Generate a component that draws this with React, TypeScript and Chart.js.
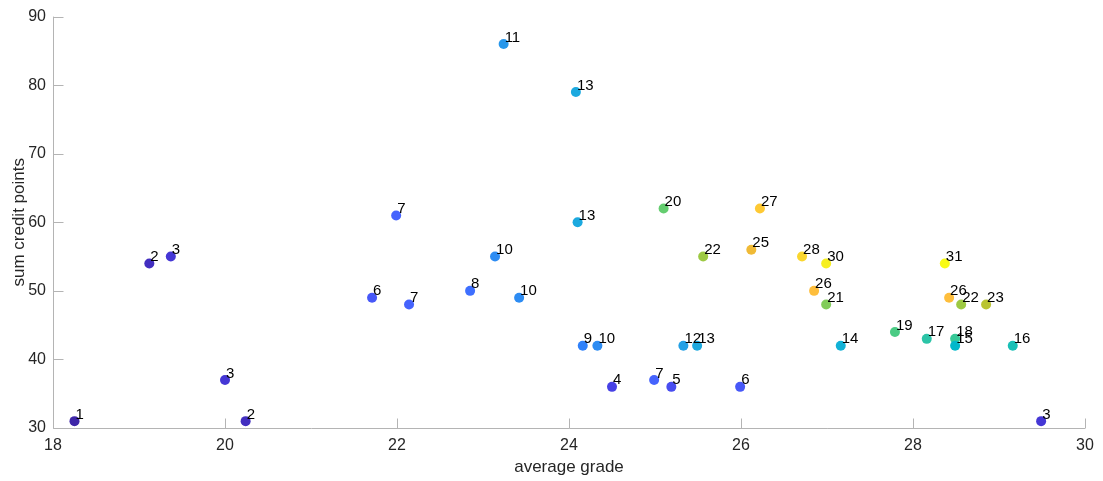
import React, { useEffect, useRef } from "react";
import { Chart, registerables } from "chart.js";

Chart.register(...registerables);

// average grade (x), sum credit points (y), label / colour value
const grades = [
  18.25, 19.12, 19.37, 20.0, 20.24, 21.71, 21.99, 22.14, 22.85, 23.14, 23.42,
  23.24, 24.08, 24.1, 24.16, 24.33, 24.5, 24.99, 25.19, 25.33, 25.49, 25.99,
  25.1, 25.56, 26.22, 26.12, 26.71, 26.99, 26.85, 26.99, 27.16, 27.79, 28.16,
  28.37, 28.42, 28.49, 28.49, 28.56, 28.85, 29.16, 29.49,
];
const credits = [
  31, 54, 55, 37, 31, 49, 61, 48, 50, 55, 49, 86, 79, 60, 42, 42, 36, 37, 36,
  42, 42, 36, 62, 55, 62, 56, 55, 54, 50, 48, 42, 44, 43, 54, 49, 43, 42, 48,
  48, 42, 31,
];
const counts = [
  1, 2, 3, 3, 2, 6, 7, 7, 8, 10, 10, 11, 13, 13, 9, 10, 4, 7, 5, 12, 13, 6, 20,
  22, 27, 25, 28, 30, 26, 21, 14, 19, 17, 31, 26, 18, 15, 22, 23, 16, 3,
];

const xLabel = "average grade";
const yLabel = "sum credit points";

const PARULA: number[][] = [
  [0.2422, 0.1504, 0.6603], [0.2504, 0.165, 0.7076], [0.2578, 0.1818, 0.7511],
  [0.2647, 0.1978, 0.7952], [0.2706, 0.2147, 0.8364], [0.2751, 0.2342, 0.871],
  [0.2783, 0.2559, 0.8991], [0.2803, 0.2782, 0.9221], [0.2813, 0.3006, 0.9414],
  [0.281, 0.3228, 0.9579], [0.2795, 0.3447, 0.9717], [0.276, 0.3667, 0.9829],
  [0.2699, 0.3892, 0.9906], [0.2602, 0.4123, 0.9952], [0.244, 0.4358, 0.9988],
  [0.2206, 0.4603, 0.9973], [0.1963, 0.4847, 0.9892], [0.1834, 0.5074, 0.9798],
  [0.1786, 0.5289, 0.9682], [0.1764, 0.5499, 0.952], [0.1687, 0.5703, 0.9359],
  [0.154, 0.5902, 0.9218], [0.146, 0.6091, 0.9079], [0.138, 0.6276, 0.8973],
  [0.1248, 0.6459, 0.8883], [0.1113, 0.6635, 0.8763], [0.0952, 0.6798, 0.8598],
  [0.0689, 0.6948, 0.8394], [0.0297, 0.7082, 0.8163], [0.0036, 0.7203, 0.7917],
  [0.0067, 0.7312, 0.766], [0.0433, 0.7411, 0.7394], [0.0964, 0.75, 0.712],
  [0.1408, 0.7584, 0.6842], [0.1717, 0.767, 0.6554], [0.1938, 0.7758, 0.6251],
  [0.2161, 0.7843, 0.5923], [0.247, 0.7918, 0.5567], [0.2906, 0.7973, 0.5188],
  [0.3406, 0.8008, 0.4789], [0.3909, 0.8029, 0.4354], [0.4456, 0.8024, 0.3909],
  [0.5044, 0.7993, 0.348], [0.5616, 0.7942, 0.3045], [0.6174, 0.7876, 0.2612],
  [0.672, 0.7793, 0.2227], [0.7242, 0.7698, 0.191], [0.7738, 0.7598, 0.1646],
  [0.8203, 0.7498, 0.1535], [0.8634, 0.7406, 0.1596], [0.9035, 0.733, 0.1774],
  [0.9393, 0.7288, 0.21], [0.9728, 0.7298, 0.2394], [0.9956, 0.7434, 0.2371],
  [0.997, 0.7659, 0.2199], [0.9952, 0.7893, 0.2028], [0.9892, 0.8136, 0.1885],
  [0.9786, 0.8386, 0.1766], [0.9676, 0.8639, 0.1643], [0.961, 0.889, 0.1537],
  [0.9597, 0.9135, 0.1423], [0.9628, 0.9373, 0.1265], [0.9691, 0.9606, 0.1064],
  [0.9769, 0.9839, 0.0805],
];

function parula(v: number, lo: number, hi: number): string {
  const m = PARULA.length;
  let idx = Math.floor(((v - lo) / (hi - lo)) * m);
  idx = Math.max(0, Math.min(m - 1, idx));
  const c = PARULA[idx];
  return `rgb(${Math.round(c[0] * 255)},${Math.round(c[1] * 255)},${Math.round(c[2] * 255)})`;
}

const FONT = "'Liberation Sans', Arial, Helvetica, sans-serif";
const AXIS_COLOR = "#b4b4b4";
const TEXT_COLOR = "#262626";

const decorPlugin = {
  id: "decor",
  beforeDatasetsDraw(chart: any) {
    const { ctx, chartArea, scales } = chart;
    const xs = scales.x;
    const ys = scales.y;
    const L = Math.round(chartArea.left) + 0.5;
    const B = Math.round(chartArea.bottom) + 0.5;
    ctx.save();
    ctx.strokeStyle = AXIS_COLOR;
    ctx.lineWidth = 1;
    ctx.beginPath();
    ctx.moveTo(L, chartArea.top);
    ctx.lineTo(L, B);
    ctx.lineTo(chartArea.right, B);
    xs.ticks.forEach((t: any) => {
      const px = Math.round(xs.getPixelForValue(t.value)) + 0.5;
      ctx.moveTo(px, B);
      ctx.lineTo(px, B - 10);
    });
    ys.ticks.forEach((t: any) => {
      const py = Math.round(ys.getPixelForValue(t.value)) + 0.5;
      ctx.moveTo(L, py);
      ctx.lineTo(L + 10, py);
    });
    ctx.stroke();
    ctx.restore();
  },
  afterDatasetsDraw(chart: any) {
    const { ctx } = chart;
    const meta = chart.getDatasetMeta(0);
    ctx.save();
    ctx.fillStyle = "#000";
    ctx.font = `15px ${FONT}`;
    ctx.textAlign = "left";
    ctx.textBaseline = "alphabetic";
    meta.data.forEach((el: any, i: number) => {
      ctx.fillText(String(counts[i]), el.x + 1, el.y - 2.5);
    });
    ctx.restore();
  },
};

export default function App() {
  const ref = useRef<HTMLCanvasElement | null>(null);
  useEffect(() => {
    if (!ref.current) return;
    const lo = Math.min(...counts);
    const hi = Math.max(...counts);
    const chart = new Chart(ref.current, {
      type: "scatter",
      data: {
        datasets: [
          {
            data: grades.map((g, i) => ({ x: g, y: credits[i] })),
            backgroundColor: counts.map((c) => parula(c, lo, hi)),
            borderWidth: 0,
            pointRadius: 5,
            pointHoverRadius: 5,
          },
        ],
      },
      options: {
        responsive: false,
        animation: false,
        events: [],
        layout: { padding: { left: 0, right: 18, top: 16, bottom: 0 } },
        plugins: { legend: { display: false }, tooltip: { enabled: false } },
        scales: {
          x: {
            type: "linear",
            min: 18,
            max: 30,
            ticks: { stepSize: 2, font: { size: 16, family: FONT }, color: TEXT_COLOR, padding: 8 },
            grid: { display: false, drawTicks: false },
            border: { display: false },
            title: {
              display: true,
              text: xLabel,
              font: { size: 17, family: FONT },
              color: TEXT_COLOR,
              padding: { top: 0, bottom: 3 },
            },
            afterFit: (s: any) => {
              s.height = 53;
            },
          },
          y: {
            type: "linear",
            min: 30,
            max: 90,
            ticks: { stepSize: 10, font: { size: 16, family: FONT }, color: TEXT_COLOR, padding: 7 },
            grid: { display: false, drawTicks: false },
            border: { display: false },
            title: {
              display: true,
              text: yLabel,
              font: { size: 17, family: FONT },
              color: TEXT_COLOR,
              padding: { top: 9, bottom: 0 },
            },
            afterFit: (s: any) => {
              s.width = 53;
            },
          },
        },
      },
      plugins: [decorPlugin],
    });
    return () => chart.destroy();
  }, []);
  return (
    <div style={{ position: "fixed", left: 0, top: 0, width: 1103, height: 481, background: "#fff" }}>
      <canvas ref={ref} width={1103} height={481} style={{ width: 1103, height: 481, display: "block" }} />
    </div>
  );
}
